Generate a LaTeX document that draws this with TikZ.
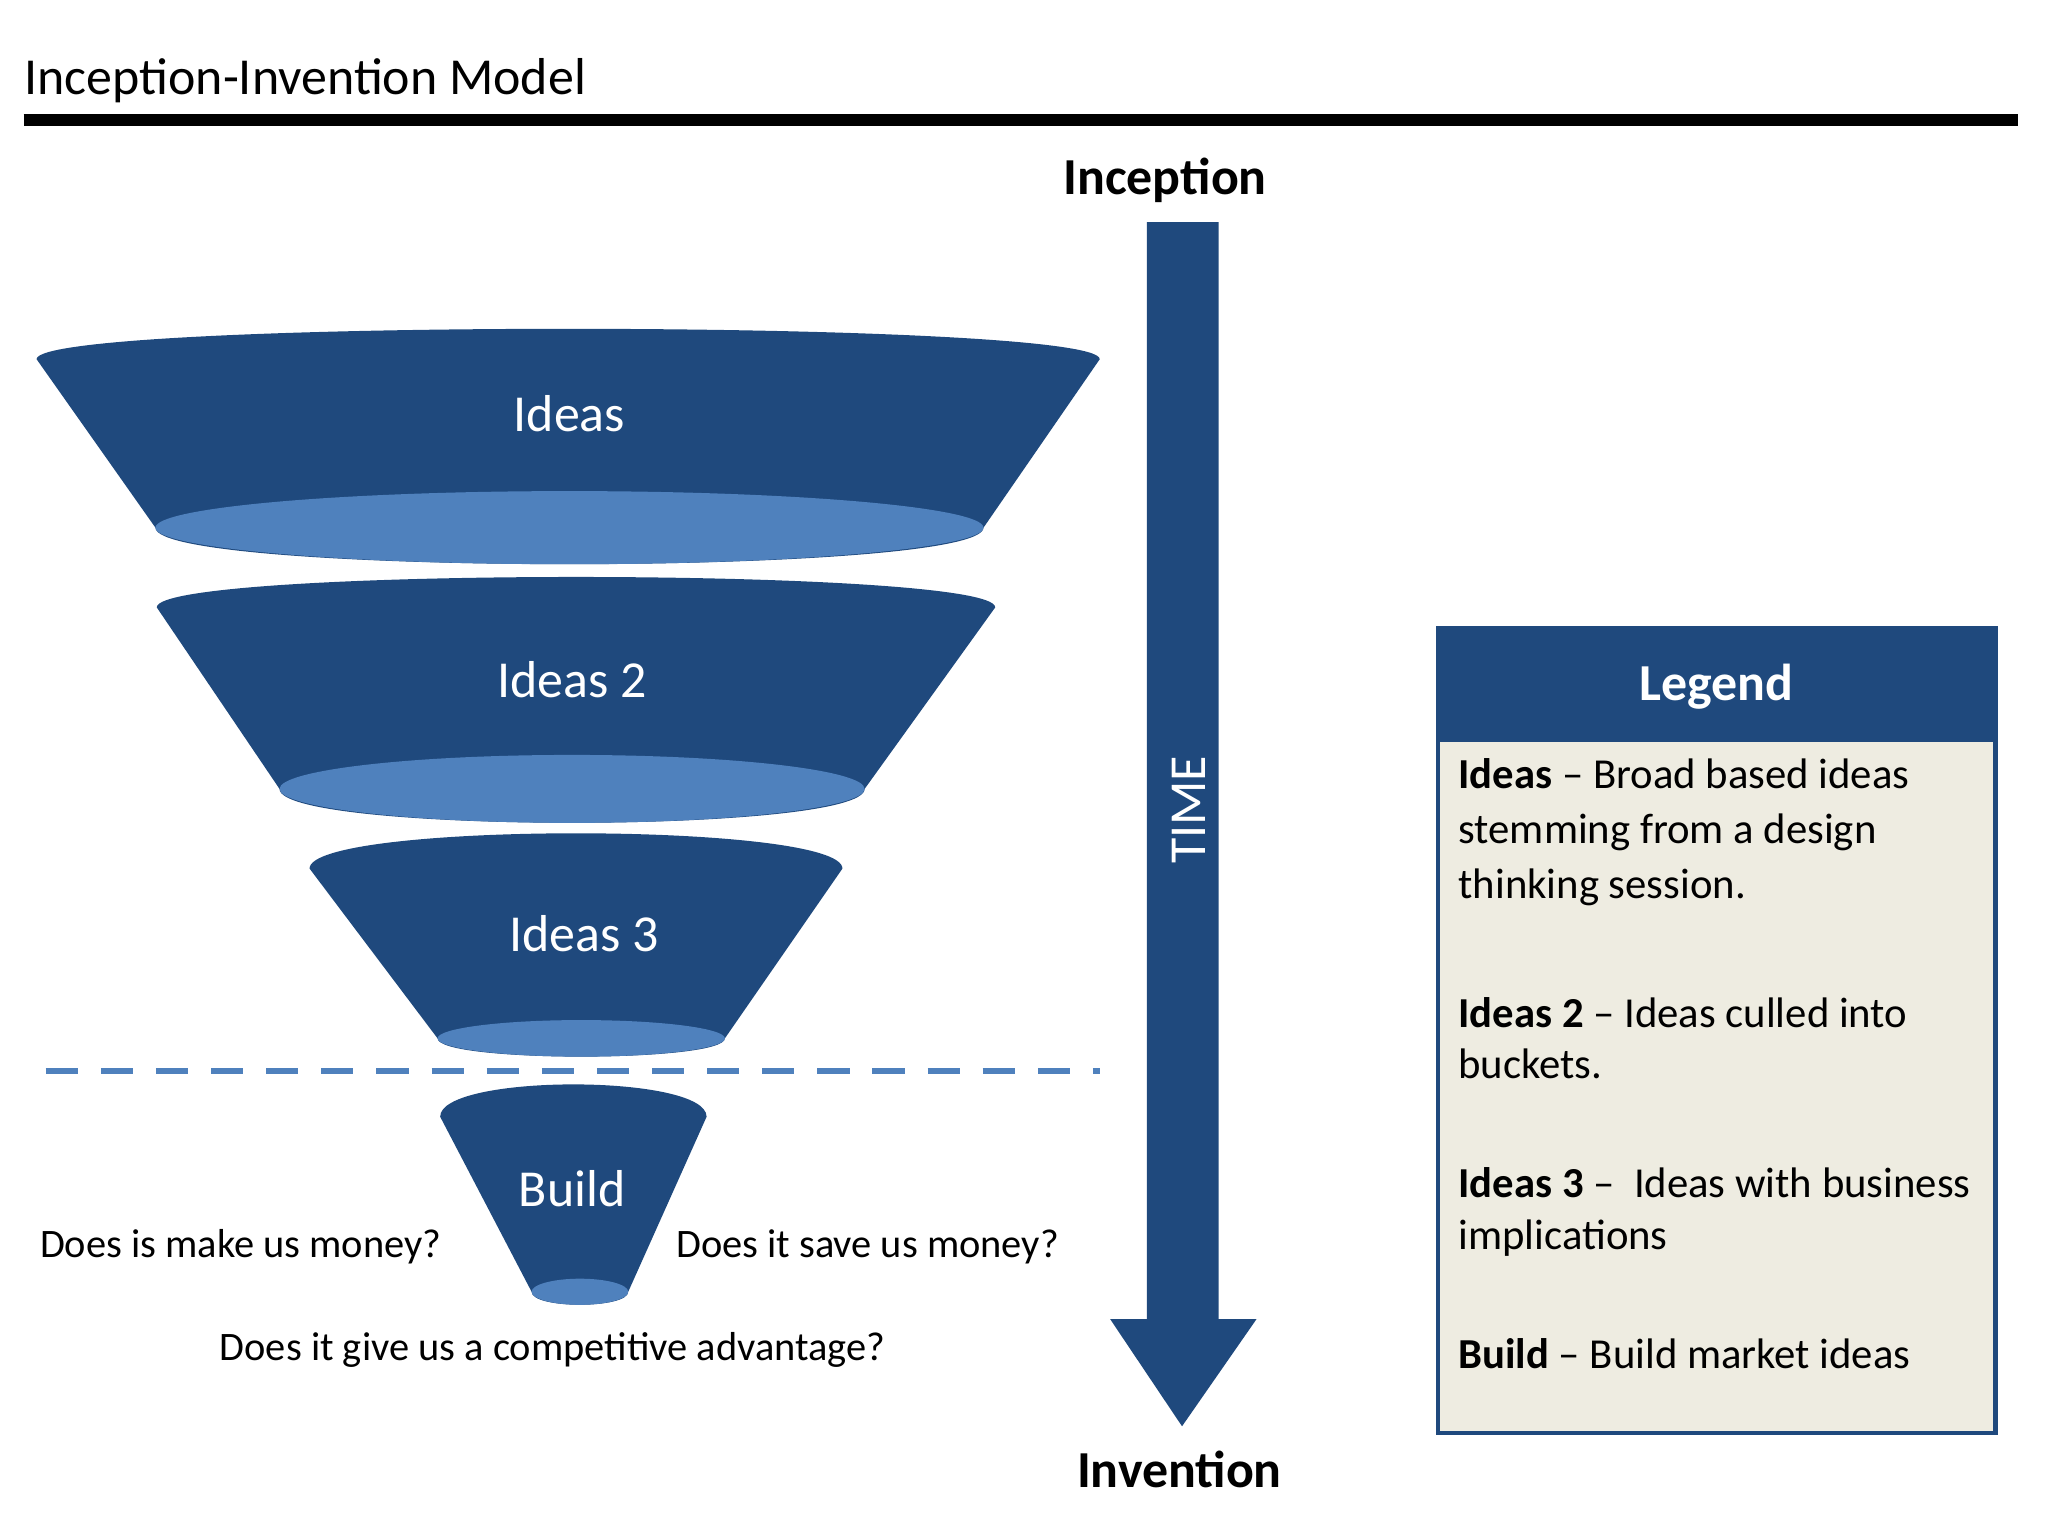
\documentclass[tikz,border=0pt]{standalone}
\usepackage{fontspec}
\setmainfont{Carlito}
\definecolor{funneldark}{RGB}{31,73,125}
\definecolor{funnellight}{RGB}{79,129,189}
\definecolor{legendbg}{RGB}{238,236,225}
\newcommand{\bigtxt}{\fontsize{11.3}{14}\selectfont}
\newcommand{\smalltxt}{\fontsize{8.8}{12}\selectfont}
\newcommand{\legtxt}{\fontsize{9.3}{12}\selectfont}
% funnel: xl, xr, ytop, yctrl, cx, cy, rx, ry
\newcommand{\funnel}[8]{%
  \fill[funneldark] (#1,#3) .. controls (#1,#4) and (#2,#4) .. (#2,#3) -- (#5+#7,#6)
    .. controls (#5+#7,#6+1.33*#8) and (#5-#7,#6+1.33*#8) .. (#5-#7,#6) -- cycle;
  \fill[funnellight] (#5,#6) ellipse ({#7} and {#8});
}
\tikzset{legline/.style={anchor=base west,inner sep=0,font=\legtxt}}
\begin{document}
\begin{tikzpicture}[x=0.01cm,y=-0.01cm]
	\useasboundingbox (0,0) rectangle (1568,1176);

	% title
	\node[anchor=base west,inner sep=0] (title) at (18,72) {\bigtxt Inception-Invention Model};
	\draw[line width=2.5pt] (18,92) -- (1545,92);

	% funnels
	\funnel{28}{842}{275}{244}{436}{404}{317}{28}
	\funnel{120}{762}{465}{434}{438}{604}{224}{26}
	\funnel{237}{645}{665}{629}{445}{795}{110}{14}
	\funnel{337}{541}{855}{822}{444}{989}{37}{10}
	\node[white] (ideas) at (436,317) {\bigtxt Ideas};
	\node[white] (ideas2) at (438,520) {\bigtxt Ideas 2};
	\node[white] (ideas3) at (447,715) {\bigtxt Ideas 3};
	\node[white] (build) at (438,910) {\bigtxt Build};

	% dashed line
	\draw[funnellight,line width=1.5pt,dash pattern=on 7pt off 5pt] (35,820) -- (842,820);

	% questions
	\node[anchor=base west,inner sep=0] (q1) at (30,963) {\smalltxt Does is make us money?};
	\node[anchor=base west,inner sep=0] (q2) at (517,963) {\smalltxt Does it save us money?};
	\node[anchor=base,inner sep=0] (q3) at (423,1042) {\smalltxt Does it give us a competitive advantage?};

	% time arrow
	\fill[funneldark] (878,170) -- (933,170) -- (933,1010) -- (962,1010) -- (905,1092) -- (850,1010) -- (878,1010) -- cycle;
	\node[white,rotate=90] (time) at (910,620) {\bigtxt TIME};
	\node (inception) at (892,138) {\bigtxt\bfseries Inception};
	\node (invention) at (903,1125) {\bigtxt\bfseries Invention};

	% legend
	\filldraw[fill=legendbg,draw=funneldark,line width=1pt] (1101,481) rectangle (1528,1097);
	\fill[funneldark] (1101,481) rectangle (1528,568);
	\node[white] (legend) at (1314,526) {\bigtxt\bfseries Legend};
	\node[legline] (leg1a) at (1116,604) {\textbf{Ideas} -- Broad based ideas};
	\node[legline] (leg1b) at (1116,646) {stemming from a design};
	\node[legline] (leg1c) at (1116,688) {thinking session.};
	\node[legline] (leg2a) at (1116,787) {\textbf{Ideas 2} -- Ideas culled into};
	\node[legline] (leg2b) at (1116,826) {buckets.};
	\node[legline] (leg3a) at (1116,917) {\textbf{Ideas 3} --\ \ Ideas with business};
	\node[legline] (leg3b) at (1116,957) {implications};
	\node[legline] (leg4) at (1116,1048) {\textbf{Build} -- Build market ideas};
\end{tikzpicture}
\end{document}
